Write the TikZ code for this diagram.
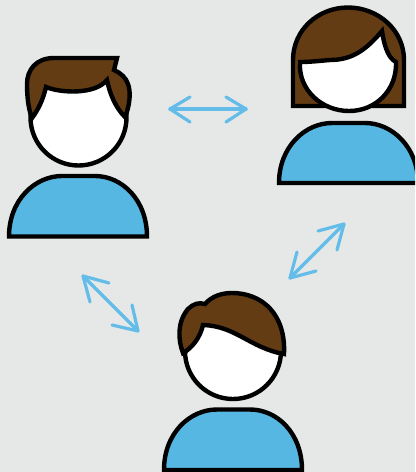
\documentclass[tikz,border=0pt]{standalone}
\definecolor{bgc}{HTML}{E6E8E8}
\definecolor{shirt}{HTML}{57B7E3}
\definecolor{hair}{HTML}{633C14}
\definecolor{arrowc}{HTML}{63BDE8}
\tikzset{
  outl/.style={draw=black,line width=3.3pt,line join=miter,miter limit=6},
  shirtp/.style={outl,fill=shirt},
  hairp/.style={outl,fill=hair},
  facep/.style={outl,fill=white},
  wing/.style={draw=arrowc,line width=2.4pt,line cap=round,line join=round}
}
\begin{document}
\begin{tikzpicture}[x=0.75pt,y=-0.75pt]
\useasboundingbox (0,0) rectangle (415,472);
\clip (0,0) rectangle (415,472);
\fill[bgc] (0,0) rectangle (415,472);

% left man
\draw[facep] (78.5,117.5) circle (48);
\draw[hairp] (117,58) -- (54,58) .. controls (36,58) and (27,70) .. (27,84)
  .. controls (27,95) and (28,108) .. (32,118)
  .. controls (38,110) and (43,100) .. (46,87)
  .. controls (60,93) and (95,95) .. (107,80)
  .. controls (110,95) and (116,108) .. (125,117)
  .. controls (130,105) and (131,92) .. (128,84)
  .. controls (126,78) and (121,73) .. (114,70) -- cycle;
\draw[shirtp] (9,236.5) .. controls (9,200) and (35,176) .. (62,176)
  -- (95,176) .. controls (122,176) and (147,200) .. (147,236.5) -- cycle;

% woman
\draw[hairp] (293,106) -- (293,60) .. controls (293,30) and (318,7.5) .. (348,7.5)
  .. controls (378,7.5) and (404,30) .. (404,60) -- (404,106) -- cycle;
\draw[facep] (300,62) .. controls (298,90) and (322,111) .. (349,111)
  .. controls (376,111) and (397,90) .. (396,62)
  .. controls (388,58) and (384,45) .. (382,31)
  .. controls (366,50) and (352,60) .. (330,60)
  .. controls (318,61) and (310,62) .. (300,62) -- cycle;
\draw[shirtp] (279,183) .. controls (279,147) and (305,123) .. (332,123)
  -- (365,123) .. controls (392,123) and (418,147) .. (418,183) -- cycle;

% bottom man
\draw[facep] (233,351) circle (48);
\draw[hairp] (183,353) .. controls (178,340) and (177,322) .. (188,309)
  .. controls (193,304) and (199,302) .. (205,304)
  .. controls (212,296) and (222,293) .. (232,293)
  .. controls (262,293) and (286,314) .. (284,354)
  .. controls (250,348) and (236,326) .. (203,325)
  .. controls (200,338) and (192,348) .. (183,353) -- cycle;
\draw[shirtp] (164,470) .. controls (164,433) and (190,409.5) .. (217,409.5)
  -- (250,409.5) .. controls (277,409.5) and (302,433) .. (302,470) -- cycle;

% arrows
\coordinate (a1) at (170,109); \coordinate (a2) at (246,109);
\coordinate (b1) at (83,276);  \coordinate (b2) at (138,331);
\coordinate (c1) at (290,278); \coordinate (c2) at (344,224);
\draw[wing] (a1) -- (a2);
\draw[wing] (190,97) -- (a1) -- (190,122);
\draw[wing] (226,97) -- (a2) -- (226,122);
\draw[wing] (b1) -- (b2);
\draw[wing] (109,283) -- (b1) -- (90,302);
\draw[wing] (132,305) -- (b2) -- (112,325);
\draw[wing] (c1) -- (c2);
\draw[wing] (316,271) -- (c1) -- (297,252);
\draw[wing] (318,231) -- (c2) -- (337,250);
\end{tikzpicture}
\end{document}
